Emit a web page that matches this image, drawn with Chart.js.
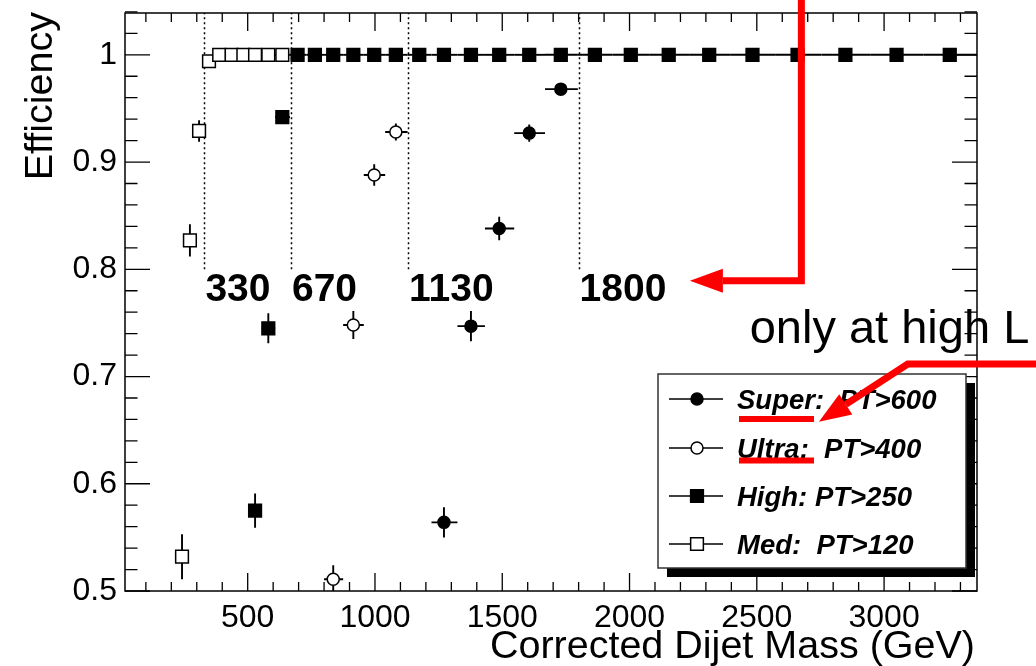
<!DOCTYPE html>
<html>
<head>
<meta charset="utf-8">
<script src="https://cdn.jsdelivr.net/npm/chart.js@4.4.0/dist/chart.umd.min.js"></script>
<style>
  html, body { margin: 0; padding: 0; background: #fff; }
</style>
</head>
<body>
<canvas id="eff" width="1036" height="666"></canvas>
<script>
// Dijet mass binning (GeV)
const massBins = [242, 273, 309, 348, 388, 437, 483, 529, 581, 636, 696, 764, 836, 915, 997,
  1082, 1174, 1271, 1377, 1488, 1606, 1730, 1864, 2005, 2154, 2313, 2483, 2660, 2848, 3049, 3258];
const binEdges = [227, 257, 291, 328, 368, 412, 460, 506, 555, 608, 666, 730, 800, 875, 956, 1040,
  1128, 1222, 1324, 1432, 1547, 1668, 1797, 1934, 2080, 2234, 2398, 2572, 2754, 2948, 3154, 3365];

// trigger efficiencies
const superMass = [1271, 1377, 1488, 1606, 1730];
const superEff  = [0.564, 0.747, 0.838, 0.927, 0.968];
const superErr  = [0.014, 0.014, 0.011, 0.008, 0.005];

const ultraMass = [836, 915, 997, 1082];
const ultraEff  = [0.511, 0.748, 0.888, 0.928];
const ultraErr  = [0.013, 0.013, 0.010, 0.008];

const highMass = [529, 581, 636, 696, 764, 836, 915, 997, 1082, 1174, 1271, 1377, 1488, 1606,
  1730, 1864, 2005, 2154, 2313, 2483, 2660, 2848, 3049, 3258];
const highEff  = [0.575, 0.745, 0.942, 1, 1, 1, 1, 1, 1, 1, 1, 1, 1, 1, 1, 1, 1, 1, 1, 1, 1, 1, 1, 1];
const highErr  = [0.016, 0.014, 0.006, 0, 0, 0, 0, 0, 0, 0, 0, 0, 0, 0, 0, 0, 0, 0, 0, 0, 0, 0, 0, 0];

const medMass = [242, 273, 309, 348, 388, 437, 483, 529, 581, 636];
const medEff  = [0.532, 0.827, 0.929, 0.994, 1, 1, 1, 1, 1, 1];
const medErr  = [0.021, 0.015, 0.010, 0.004, 0, 0, 0, 0, 0, 0];

const seriesLabels = ['Super:  PT>600', 'Ultra:  PT>400', 'High: PT>250', 'Med:  PT>120'];
const xTicks = [500, 1000, 1500, 2000, 2500, 3000];
const yTicks = [0.5, 0.6, 0.7, 0.8, 0.9, 1];
const cutMasses = [330, 670, 1130, 1800];

const FONT = '"Liberation Sans", Arial, Helvetica, sans-serif';

function points(mass, eff, err) {
  return mass.map((m, i) => {
    const b = massBins.indexOf(m);
    return { x: m, y: eff[i], e: err[i], xl: binEdges[b], xh: binEdges[b + 1] };
  });
}

const markers = [
  { pointStyle: 'circle', pointRadius: 6, pointBackgroundColor: '#000' },
  { pointStyle: 'circle', pointRadius: 6, pointBackgroundColor: '#fff' },
  { pointStyle: 'rect', pointRadius: 9, pointBackgroundColor: '#000' },
  { pointStyle: 'rect', pointRadius: 9, pointBackgroundColor: '#fff' }
];

function arrow(ctx, pts, head, half) {
  const n = pts.length;
  const [tx, ty] = pts[n - 1];
  const [px, py] = pts[n - 2];
  const ang = Math.atan2(ty - py, tx - px);
  const bx = tx - head * Math.cos(ang), by = ty - head * Math.sin(ang);
  ctx.beginPath();
  ctx.moveTo(pts[0][0], pts[0][1]);
  for (let i = 1; i < n - 1; i++) ctx.lineTo(pts[i][0], pts[i][1]);
  ctx.lineTo(bx, by);
  ctx.stroke();
  ctx.beginPath();
  ctx.moveTo(tx, ty);
  ctx.lineTo(bx + half * Math.sin(ang), by - half * Math.cos(ang));
  ctx.lineTo(bx - half * Math.sin(ang), by + half * Math.cos(ang));
  ctx.closePath();
  ctx.fill();
}

const rootStyle = {
  id: 'rootStyle',
  beforeDatasetsDraw(chart) {
    const { ctx, chartArea: a, scales: { x, y } } = chart;
    ctx.save();
    ctx.beginPath();
    ctx.rect(a.left, a.top, a.right - a.left, a.bottom - a.top);
    ctx.clip();

    // dotted trigger thresholds
    ctx.strokeStyle = '#000';
    ctx.lineWidth = 1.5;
    ctx.setLineDash([2, 3]);
    cutMasses.forEach(m => {
      const px = Math.round(x.getPixelForValue(m)) + 0.5;
      ctx.beginPath();
      ctx.moveTo(px, y.getPixelForValue(0.8));
      ctx.lineTo(px, a.top);
      ctx.stroke();
    });
    ctx.setLineDash([]);

    // error bars
    ctx.lineWidth = 1.9;
    chart.data.datasets.forEach(ds => {
      ds.data.forEach(p => {
        const px = x.getPixelForValue(p.x), py = y.getPixelForValue(p.y);
        ctx.beginPath();
        ctx.moveTo(x.getPixelForValue(p.xl), py);
        ctx.lineTo(x.getPixelForValue(p.xh), py);
        if (p.e > 0) {
          ctx.moveTo(px, y.getPixelForValue(p.y - p.e));
          ctx.lineTo(px, y.getPixelForValue(p.y + p.e));
        }
        ctx.stroke();
      });
    });
    ctx.restore();
  },
  afterDraw(chart) {
    const { ctx, chartArea: a, scales: { x, y } } = chart;
    ctx.save();

    // frame + ticks on all four sides
    ctx.strokeStyle = '#000';
    ctx.lineWidth = 1.5;
    ctx.strokeRect(a.left, a.top, a.right - a.left, a.bottom - a.top);
    ctx.lineWidth = 1.3;
    ctx.beginPath();
    for (let v = 100; v <= 3300; v += 100) {
      const px = x.getPixelForValue(v);
      const len = v % 500 === 0 ? 18 : 9;
      ctx.moveTo(px, a.bottom); ctx.lineTo(px, a.bottom - len);
      ctx.moveTo(px, a.top); ctx.lineTo(px, a.top + len);
    }
    for (let k = 0; k <= 27; k++) {
      const v = 0.5 + k * 0.02;
      const py = y.getPixelForValue(v);
      const len = k % 5 === 0 ? 25 : 12.5;
      ctx.moveTo(a.left, py); ctx.lineTo(a.left + len, py);
      ctx.moveTo(a.right, py); ctx.lineTo(a.right - len, py);
    }
    ctx.stroke();

    // axis titles
    ctx.fillStyle = '#000';
    ctx.font = '39.5px ' + FONT;
    ctx.textAlign = 'right';
    ctx.textBaseline = 'alphabetic';
    ctx.fillText('Corrected Dijet Mass (GeV)', a.right - 2, 658);
    ctx.save();
    ctx.translate(52, 12);
    ctx.rotate(-Math.PI / 2);
    ctx.fillText('Efficiency', 0, 0);
    ctx.restore();

    // threshold labels
    ctx.font = 'bold 39px ' + FONT;
    ctx.textAlign = 'left';
    cutMasses.forEach(m => {
      ctx.fillText(String(m), x.getPixelForValue(m) + 1, y.getPixelForValue(0.7703));
    });

    // annotation text
    ctx.font = '47px ' + FONT;
    ctx.fillText('only at high L', x.getPixelForValue(2472), y.getPixelForValue(0.731));

    // legend with shadow
    const L = { x: 658, y: 374, w: 308, h: 194 };
    ctx.fillStyle = '#000';
    ctx.fillRect(L.x + 9, L.y + 9, L.w, L.h);
    ctx.fillStyle = '#fff';
    ctx.fillRect(L.x, L.y, L.w, L.h);
    ctx.strokeStyle = '#333';
    ctx.lineWidth = 1.5;
    ctx.strokeRect(L.x, L.y, L.w, L.h);
    const rows = [399, 448, 496, 544];
    chart.data.datasets.forEach((ds, i) => {
      const ry = rows[i];
      ctx.strokeStyle = '#000';
      ctx.lineWidth = 1.5;
      ctx.beginPath();
      ctx.moveTo(669, ry); ctx.lineTo(723, ry);
      ctx.stroke();
      ctx.fillStyle = ds.pointBackgroundColor;
      Chart.helpers.drawPoint(ctx, { pointStyle: ds.pointStyle, radius: ds.pointRadius, rotation: 0, borderWidth: 1.5 }, 697, ry);
      ctx.fillStyle = '#000';
      ctx.font = 'italic bold 27.5px ' + FONT;
      ctx.textAlign = 'left';
      ctx.fillText(ds.label, 737, ry + 10);
    });

    // red highlights
    ctx.fillStyle = '#ff0000';
    ctx.fillRect(739, 416, 75, 6);
    ctx.fillRect(739, 457.5, 75, 6);
    ctx.strokeStyle = '#ff0000';
    ctx.lineWidth = 7;
    ctx.lineJoin = 'miter';
    const P = (mx, ey) => [x.getPixelForValue(mx), y.getPixelForValue(ey)];
    arrow(ctx, [P(2675, 1.06), P(2675, 0.7894), P(2237, 0.7894)], 33, 12);
    arrow(ctx, [P(3700, 0.7116), P(3093, 0.7116), P(2744, 0.6578)], 32, 12);
    ctx.restore();
  }
};

new Chart(document.getElementById('eff'), {
  type: 'scatter',
  data: {
    datasets: [
      { label: seriesLabels[0], data: points(superMass, superEff, superErr), order: 4, ...markers[0] },
      { label: seriesLabels[1], data: points(ultraMass, ultraEff, ultraErr), order: 3, ...markers[1] },
      { label: seriesLabels[2], data: points(highMass, highEff, highErr), order: 2, ...markers[2] },
      { label: seriesLabels[3], data: points(medMass, medEff, medErr), order: 1, ...markers[3] }
    ].map(ds => Object.assign(ds, { borderColor: '#000', pointBorderColor: '#000', pointBorderWidth: 1.5, showLine: false }))
  },
  options: {
    responsive: false,
    animation: false,
    events: [],
    layout: { padding: { top: 13, right: 59, left: 0, bottom: 0 } },
    plugins: { legend: { display: false }, tooltip: { enabled: false } },
    scales: {
      x: {
        type: 'linear',
        position: 'bottom',
        min: 18,
        max: 3365,
        grid: { display: false, drawTicks: false },
        border: { display: false },
        afterBuildTicks: s => { s.ticks = xTicks.map(v => ({ value: v })); },
        afterFit: s => { s.height = 75; s.paddingLeft = 0; s.paddingRight = 0; },
        ticks: { color: '#000', font: { family: FONT, size: 32 }, padding: 8, maxRotation: 0, autoSkip: false, callback: v => String(v) }
      },
      y: {
        type: 'linear',
        min: 0.5,
        max: 1.039,
        grid: { display: false, drawTicks: false },
        border: { display: false },
        afterBuildTicks: s => { s.ticks = yTicks.map(v => ({ value: v })); },
        afterFit: s => { s.width = 125; s.paddingTop = 0; s.paddingBottom = 0; },
        ticks: { color: '#000', font: { family: FONT, size: 32 }, padding: 8, callback: v => String(v) }
      }
    }
  },
  plugins: [rootStyle]
});
</script>
</body>
</html>
